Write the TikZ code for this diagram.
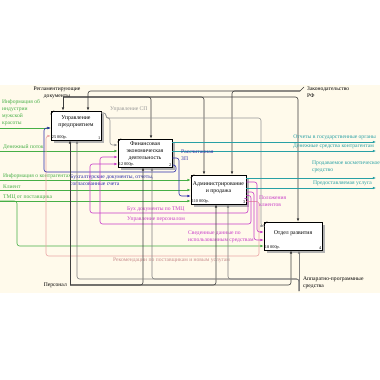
\documentclass[tikz,border=0pt]{standalone}
\usepackage{fontspec}
\setmainfont{Liberation Serif}
\usetikzlibrary{arrows.meta,shadows}
\definecolor{cream}{RGB}{255,250,235}
\definecolor{igreen}{RGB}{70,175,70}
\definecolor{iteal}{RGB}{40,160,165}
\definecolor{iblue}{RGB}{45,45,170}
\definecolor{imag}{RGB}{200,60,200}
\definecolor{ipink}{RGB}{235,165,165}
\definecolor{igray}{RGB}{150,150,150}
\definecolor{idark}{RGB}{60,60,60}
\begin{document}
\begin{tikzpicture}[x=1pt,y=-1pt,
 ln/.style={line width=0.6pt, rounded corners=2.5pt},
 ar/.style={ln,-{Latex[length=3.2pt,width=2.6pt]}},
 lbl/.style={font=\fontsize{5.6}{6.9}\selectfont, inner sep=0pt, align=left},
 box/.style={draw=black, line width=0.7pt, fill=white, inner sep=0pt,
   drop shadow={shadow xshift=2.5pt,shadow yshift=-2.5pt,fill=black!30,opacity=1}},
 btx/.style={font=\fontsize{5.8}{7.1}\selectfont, align=center, inner sep=0pt},
 cost/.style={font=\fontsize{4.3}{5}\selectfont, inner sep=1pt},
]
\useasboundingbox (0,0) rectangle (380,380);
\fill[white] (0,0) rectangle (380,380);
\fill[cream] (0,85) rectangle (380,293);

% boxes
\node[box, minimum width=50pt, minimum height=29pt] (b1) at (76,125.5) {};
\node[box, minimum width=54pt, minimum height=28pt] (b2) at (145,153) {};
\node[box, minimum width=55pt, minimum height=29pt] (b3) at (218.5,189.5) {};
\node[box, minimum width=58pt, minimum height=28pt] (b4) at (293,236) {};
\foreach \b in {b1,b2,b3,b4}{\draw[line width=0.5pt] (\b.north west) ++(0,3.5) -- ++(3.5,-3.5);}

\node[btx] (t1) at (76,121.5) {Управление\\предприятием};
\node[btx] (t2) at (145,151.5) {Финансовая\\экономическая\\деятельность};
\node[btx] (t3) at (218.5,187.5) {Администрирование\\и продажа};
\node[btx] (t4) at (293,233) {Отдел развития};
\node[cost, anchor=south west] (c1) at (b1.south west) {25 000р.};
\node[cost, anchor=south east] (n1) at (b1.south east) {1};
\node[cost, anchor=south west] (c2) at (b2.south west) {12 000р.};
\node[cost, anchor=south east] (n2) at (b2.south east) {2};
\node[cost, anchor=south west] (c3) at (b3.south west) {110 000р.};
\node[cost, anchor=south east] (n3) at (b3.south east) {3};
\node[cost, anchor=south west] (c4) at (b4.south west) {18 000р.};
\node[cost, anchor=south east] (n4) at (b4.south east) {4};

% controls
\coordinate (creg) at (63,97);
\node[lbl, align=center, anchor=south] (lreg) at (57,98.5) {Регламентирующие\\документы};
\draw[ar,idark] (creg) -- (b1.north -| 63,0);
\draw[ar,idark] (creg) -| (b2.north -| 151,0);
\draw[ar,idark] (creg) -| (b3.north -| 204,0);
\draw[ar,idark] (creg) -| (b4.north -| 298,0);

\coordinate (czak) at (300,91);
\coordinate (czakt) at (304,87);
\node[lbl, anchor=north west] (lzak) at (307,87) {Законодательство\\РФ};
\draw[ln,idark] (czak) -- (czakt);
\draw[ar,idark] (czak) -| (b1.north -| 88,0);
\draw[ar,idark] (czak) -| (b3.north -| 232,0);

% Управление СП
\node[lbl, text=igray, anchor=west] (lsp) at (110,109) {Управление СП};
\draw[ar,igray] (b1.east |- 0,113) -- (106,113) -- (106,118) -- (261,118) -- (261,226) -- (b4.west |- 0,226);
\draw[ar,igray] (b1.east |- 0,113) -- (106,113) -- (106,118) -- (110,118) -- (110,145) -- (b2.west |- 0,145);

% teal outputs
\coordinate (o1) at (376,142);
\coordinate (o2) at (376,151);
\coordinate (o3) at (376,178);
\coordinate (o4) at (376,188);
\draw[ar,iteal] (b2.east |- 0,142) -- (o1);
\draw[ar,iteal] (b2.east |- 0,151) -- (o2);
\draw[ar,iteal] (b3.east |- 0,178) -- (o3);
\draw[ar,iteal] (b3.east |- 0,188) -- (o4);
\node[lbl, text=iteal, anchor=south east] (lo1) at (376,139.5) {Отчеты в государственные органы};
\node[lbl, text=iteal, anchor=south east] (lo2) at (374,148.5) {Денежные средства контрагентам};
\node[lbl, text=iteal, anchor=south west] (lo3) at (312,173) {Продаваемое косметическое\\средство};
\node[lbl, text=iteal, anchor=south west] (lo4) at (313,186) {Предоставляемая услуга};

% green inputs
\coordinate (g1) at (0,128);
\coordinate (g2) at (0,151);
\coordinate (g3) at (0,180);
\coordinate (g4) at (0,190);
\coordinate (g5) at (0,201);
\draw[ar,igreen] (g1) -- (b1.west |- 0,128);
\draw[ar,igreen] (g2) -- (b2.west |- 0,151);
\draw[ar,igreen] (g3) -- (b3.west |- 0,180);
\draw[ar,igreen] (g4) -- (b3.west |- 0,190);
\draw[ar,igreen] (g5) -- (b3.west |- 0,201);
\draw[ar,igreen] (g5) -- (17,201) -- (17,246) -- (b4.west |- 0,246);
\node[lbl, text=igreen, anchor=north west] (lg1) at (2,99.5) {Информация об\\индустрии\\мужской\\красоты};
\node[lbl, text=igreen, anchor=south west] (lg2) at (3,149.5) {Денежный поток};
\node[lbl, text=igreen, anchor=south west] (lg3) at (3,178.5) {Информация о контрагентах};
\node[lbl, text=igreen, anchor=south west] (lg4) at (3,188.5) {Клиент};
\node[lbl, text=igreen, anchor=south west] (lg5) at (3,199.5) {ТМЦ от поставщика};

% pink feedback
\draw[ar,ipink] (b3.east |- 0,201.5) -- (259,201.5) -- (259,256) -- (46,256) -- (46,136) -- (b1.west |- 0,136);
\node[lbl, text=ipink!85!black, anchor=north west] (lpk) at (113,258) {Рекомендации по поставщикам и новым услугам};

% blue
\draw[ar,iblue] (b2.east |- 0,158) -- (179,158) -- (179,196) -- (b3.west |- 0,196);
\draw[ar,iblue] (b2.east |- 0,165) -- (176,165) -- (176,172) -- (44,172) -- (44,128) -- (b1.west |- 0,128);
\node[lbl, text=iblue, anchor=north west] (lzp) at (181,149.5) {Рассчитанная\\ЗП};
\node[lbl, text=iblue, anchor=north west] (lbd) at (70,175) {Бухгалтерские документы, отчеты,\\согласованные счета};

% magenta
\draw[ar,imag] (b3.east |- 0,182) -- (257,182) -- (257,232) -- (b4.west |- 0,232);
\draw[ar,imag] (b3.east |- 0,192) -- (254,192) -- (254,240) -- (b4.west |- 0,240);
\draw[ar,imag] (b3.east |- 0,195.5) -- (251,195.5) -- (251,224) -- (100,224) -- (100,157) -- (b2.west |- 0,157);
\draw[ar,imag] (b3.east |- 0,198.5) -- (248,198.5) -- (248,213) -- (90,213) -- (90,164) -- (b2.west |- 0,164);
\node[lbl, text=imag, anchor=north west] (lpc) at (259,195.5) {Положения\\клиентов};
\node[lbl, text=imag, anchor=north west] (lsd) at (188,230.5) {Сведенные данные по\\использованным средствам};
\node[lbl, text=imag, anchor=south west] (lbt) at (127,211.5) {Бух документы по ТМЦ};
\node[lbl, text=imag, anchor=south west] (lup) at (127,222) {Управление персоналом};

% mechanisms
\coordinate (cpers) at (70,285);
\node[lbl, anchor=east] (lpers) at (67,285) {Персонал};
\draw[ar,black!75] (cpers) -- (b1.south -| 70,0);
\draw[ar,black!75] (cpers) -| (b2.south -| 143,0);
\draw[ar,black!75] (cpers) -| (b3.south -| 216,0);
\draw[ar,black!75] (cpers) -| (b4.south -| 291,0);

\coordinate (capp) at (299,291);
\node[lbl, anchor=north west] (lapp) at (303,276.5) {Аппаратно-программные\\средства};
\draw[ar,black!50] (capp) -- (b4.south -| 299,0);
\draw[ar,black!50] (capp) -- (299,279) -| (b3.south -| 228,0);
\draw[ar,black!50] (capp) -- (299,279) -| (b2.south -| 152,0);
\draw[ar,black!50] (capp) -- (299,279) -| (b1.south -| 77,0);
\end{tikzpicture}
\end{document}
